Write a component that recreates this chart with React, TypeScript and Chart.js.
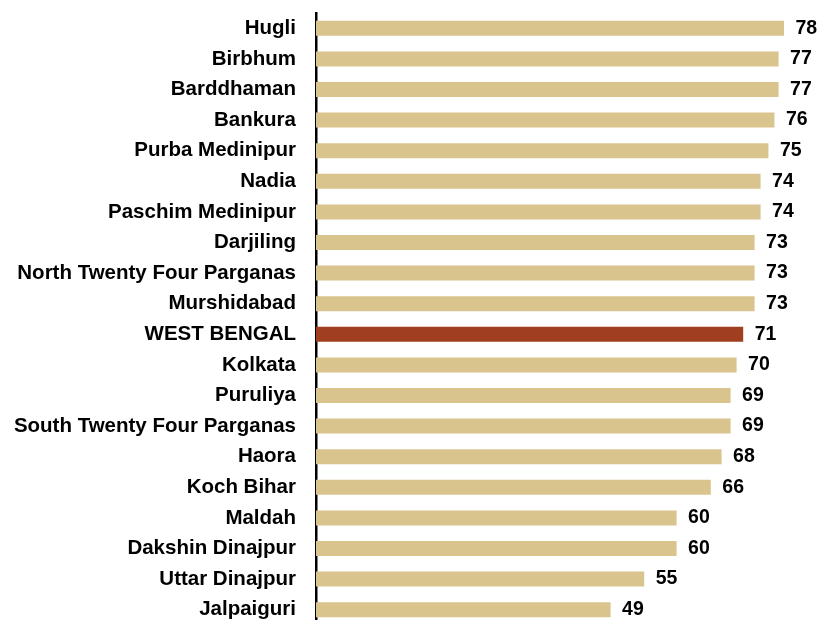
import { useEffect, useRef } from "react";
import { Chart, registerables } from "chart.js";

Chart.register(...registerables);

const districts = [
  "Hugli",
  "Birbhum",
  "Barddhaman",
  "Bankura",
  "Purba Medinipur",
  "Nadia",
  "Paschim Medinipur",
  "Darjiling",
  "North Twenty Four Parganas",
  "Murshidabad",
  "WEST BENGAL",
  "Kolkata",
  "Puruliya",
  "South Twenty Four Parganas",
  "Haora",
  "Koch Bihar",
  "Maldah",
  "Dakshin Dinajpur",
  "Uttar Dinajpur",
  "Jalpaiguri",
];

const values = [
  78.0, 77.1, 77.1, 76.4, 75.4, 74.1, 74.1, 73.1, 73.1, 73.1, 71.2, 70.1, 69.1,
  69.1, 67.6, 65.8, 60.1, 60.1, 54.7, 49.1,
];

const highlight = "WEST BENGAL";
const TAN = "#D9C48E";
const RUST = "#A03F1F";
const FONT = "'Liberation Sans', Arial, Helvetica, sans-serif";

export default function App() {
  const ref = useRef<HTMLCanvasElement>(null);

  useEffect(() => {
    const canvas = ref.current;
    if (!canvas) return;

    const valueLabels = {
      id: "valueLabels",
      afterDatasetsDraw(chart: any) {
        const ctx = chart.ctx;
        const meta = chart.getDatasetMeta(0);
        ctx.save();
        ctx.font = `bold 19.5px ${FONT}`;
        ctx.fillStyle = "#000";
        ctx.textAlign = "left";
        ctx.textBaseline = "middle";
        meta.data.forEach((bar: any, i: number) => {
          ctx.fillText(String(Math.round(values[i])), bar.x + 11.5, bar.y);
        });
        ctx.restore();
      },
    };

    const chart = new Chart(canvas, {
      type: "bar",
      data: {
        labels: districts,
        datasets: [
          {
            data: values,
            backgroundColor: districts.map((d) => (d === highlight ? RUST : TAN)),
            barPercentage: 0.49,
            categoryPercentage: 1,
          },
        ],
      },
      options: {
        indexAxis: "y",
        responsive: false,
        animation: false,
        layout: { padding: { top: 13, bottom: 5, right: 2, left: 0 } },
        plugins: {
          legend: { display: false },
          tooltip: { enabled: false },
        },
        scales: {
          x: { display: false, min: 0, max: 84 },
          y: {
            afterFit: (s: any) => {
              s.width = 316;
              s.paddingTop = 0;
              s.paddingBottom = 0;
            },
            grid: { display: false, drawTicks: false },
            border: { display: true, color: "#000", width: 2.5 },
            ticks: {
              color: "#000",
              padding: 20,
              autoSkip: false,
              font: { family: FONT, size: 20.5, weight: "bold" },
            },
          },
        },
      },
      plugins: [valueLabels],
    } as any);

    return () => chart.destroy();
  }, []);

  return (
    <div
      style={{
        position: "fixed",
        left: 0,
        top: 0,
        width: 822,
        height: 620,
        overflow: "hidden",
        background: "#fff",
      }}
    >
      <canvas ref={ref} width={822} height={630} style={{ display: "block" }} />
    </div>
  );
}
